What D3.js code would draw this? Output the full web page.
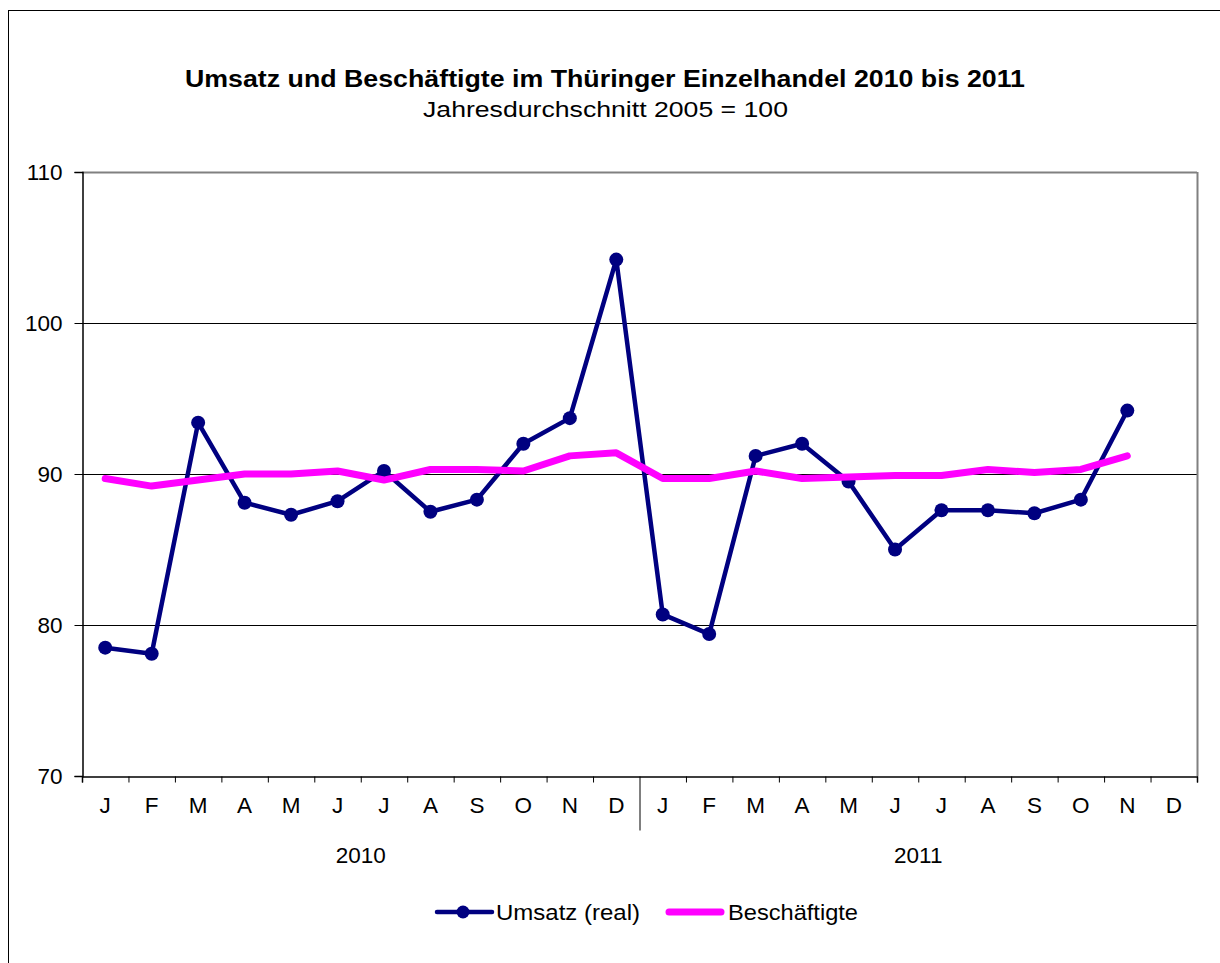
<!DOCTYPE html>
<html><head><meta charset="utf-8">
<script src="https://cdn.jsdelivr.net/npm/d3@7"></script>
<style>body{margin:0;background:#fff;} svg{display:block;} text{font-family:"Liberation Sans",Arial,sans-serif;fill:#000;}</style>
</head><body>
<svg id="c" width="1220" height="963"></svg>
<script>
const months = ["J","F","M","A","M","J","J","A","S","O","N","D","J","F","M","A","M","J","J","A","S","O","N","D"];
const years = ["2010","2011"];
const umsatz = [78.5,78.1,93.4,88.1,87.3,88.2,90.2,87.5,88.3,92.0,93.7,104.2,80.7,79.4,91.2,92.0,89.5,85.0,87.6,87.6,87.4,88.3,94.2];
const beschaeftigte = [89.7,89.2,89.6,90.0,90.0,90.2,89.6,90.3,90.3,90.2,91.2,91.4,89.7,89.7,90.2,89.7,89.8,89.9,89.9,90.3,90.1,90.3,91.2];
const yTicks = [70,80,90,100,110];
const seriesNames = ["Umsatz (real)","Beschäftigte"];
const title = "Umsatz und Beschäftigte im Thüringer Einzelhandel 2010 bis 2011";
const subtitle = "Jahresdurchschnitt 2005 = 100";

const svg = d3.select("#c");
const L=82, R=1197, T=172, B=776;
const FS = 22.5;
const x = d3.scaleBand().domain(d3.range(months.length)).range([L,R]).paddingInner(0).paddingOuter(0);
const xb = d3.scaleLinear().domain([0,months.length]).range([L,R]);
const y = d3.scaleLinear().domain([70,110]).range([B,T]);
const cx = i => x(i)+x.bandwidth()/2;

// outer border
svg.append("rect").attr("x",8.5).attr("y",10.5).attr("width",1230).attr("height",980)
  .attr("fill","none").attr("stroke","#000").attr("stroke-width",1);

// titles
svg.append("text").attr("x",185).attr("y",87)
  .attr("font-size",23).attr("font-weight","bold")
  .attr("textLength",840).attr("lengthAdjust","spacingAndGlyphs").text(title);
svg.append("text").attr("x",423).attr("y",117)
  .attr("font-size",FS)
  .attr("textLength",365).attr("lengthAdjust","spacingAndGlyphs").text(subtitle);

// gridlines
svg.append("g").selectAll("line").data(yTicks.filter(v=>v>70&&v<110)).join("line")
  .attr("x1",L).attr("x2",R).attr("y1",d=>Math.round(y(d))+0.5).attr("y2",d=>Math.round(y(d))+0.5)
  .attr("stroke","#000").attr("stroke-width",1);
// plot border top/right
svg.append("line").attr("x1",L).attr("x2",R).attr("y1",T+0.5).attr("y2",T+0.5).attr("stroke","#808080").attr("stroke-width",2);
svg.append("line").attr("x1",R+0.5).attr("x2",R+0.5).attr("y1",T).attr("y2",B).attr("stroke","#808080").attr("stroke-width",2);

// y axis
const ya = svg.append("g").attr("transform",`translate(${L+0.5},0)`)
  .call(d3.axisLeft(y).tickValues(yTicks).tickSize(8).tickPadding(12).tickFormat(d3.format("d")));
ya.select(".domain").attr("stroke","#000").attr("stroke-width",1.5);
ya.selectAll(".tick line").attr("stroke","#000");
ya.selectAll("text").attr("font-size",FS).attr("font-family","Liberation Sans, Arial, sans-serif").attr("fill","#000");

// x axis
const xa = svg.append("g").attr("transform",`translate(0,${B+0.5})`)
  .call(d3.axisBottom(xb).tickValues(d3.range(months.length+1)).tickSize(6).tickFormat(""));
xa.select(".domain").attr("stroke","#000").attr("stroke-width",1.5);
xa.selectAll(".tick line").attr("stroke","#000").attr("y2",d=>d===12?54:6);

svg.append("g").selectAll("text").data(months).join("text")
  .attr("x",(d,i)=>cx(i)).attr("y",813).attr("text-anchor","middle").attr("font-size",FS).text(d=>d);
svg.append("g").selectAll("text").data(years).join("text")
  .attr("x",(d,i)=>xb(i*12+6)).attr("y",863).attr("text-anchor","middle").attr("font-size",FS).text(d=>d);

// series
const lineU = d3.line().x((d,i)=>cx(i)).y(d=>y(d));
svg.append("path").datum(umsatz).attr("d",lineU).attr("fill","none")
  .attr("stroke","#000080").attr("stroke-width",4.5).attr("stroke-linejoin","round");
svg.append("g").selectAll("circle").data(umsatz).join("circle")
  .attr("cx",(d,i)=>cx(i)).attr("cy",d=>y(d)).attr("r",7).attr("fill","#000080");
svg.append("path").datum(beschaeftigte).attr("d",lineU).attr("fill","none")
  .attr("stroke","#FF00FF").attr("stroke-width",7).attr("stroke-linejoin","round").attr("stroke-linecap","round");

// legend
const lg = svg.append("g");
lg.append("line").attr("x1",437).attr("x2",492).attr("y1",912).attr("y2",912).attr("stroke","#000080").attr("stroke-width",4.5).attr("stroke-linecap","round");
lg.append("circle").attr("cx",463).attr("cy",912).attr("r",6.5).attr("fill","#000080");
lg.append("text").attr("x",496).attr("y",920).attr("font-size",FS)
  .attr("textLength",144).attr("lengthAdjust","spacingAndGlyphs").text(seriesNames[0]);
lg.append("line").attr("x1",669).attr("x2",721).attr("y1",912).attr("y2",912).attr("stroke","#FF00FF").attr("stroke-width",7).attr("stroke-linecap","round");
lg.append("text").attr("x",728).attr("y",920).attr("font-size",FS)
  .attr("textLength",130).attr("lengthAdjust","spacingAndGlyphs").text(seriesNames[1]);
</script>
</body></html>
